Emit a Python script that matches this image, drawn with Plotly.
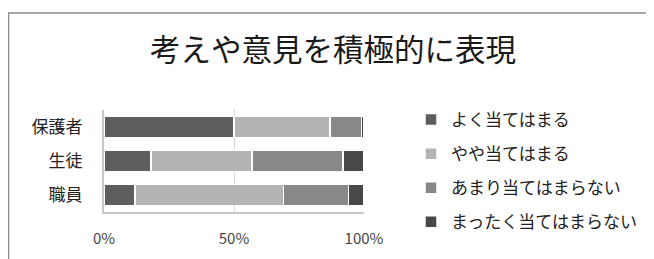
import plotly.graph_objects as go

categories = ["保護者", "生徒", "職員"]
series_names = ["よく当てはまる", "やや当てはまる", "あまり当てはまらない", "まったく当てはまらない"]
values_yoku = [50, 18, 12]
values_yaya = [37, 39, 57]
values_amari = [12, 35, 25]
values_mattaku = [1, 8, 6]
colors = ["#5e5e5e", "#b4b4b4", "#888888", "#484848"]
tick_vals = [0, 50, 100]
tick_text = ["0%", "50%", "100%"]
title_text = "考えや意見を積極的に表現"

FONT = "Noto Sans CJK JP"
# page has an 8px body margin; figure coords = page coords - 8
OFF = 8
W, H = 654 - OFF, 259 - OFF
ML, MR, MT, MB = 104 - OFF, 290, 110 - OFF, 47

fig = go.Figure()
for i, (name, vals) in enumerate(zip(series_names, [values_yoku, values_yaya, values_amari, values_mattaku])):
    fig.add_trace(go.Bar(
        y=categories, x=vals, name=name, orientation="h",
        marker=dict(color=colors[i], line=dict(color="white", width=1.5)),
        legendgroup=f"g{i}",
    ))

pw = W - ML - MR
ph = H - MT - MB
def px2x(p):  # page px -> paper x
    return (p - OFF - ML) / pw
def py2y(p):  # page px -> paper y
    return (H - MB - (p - OFF)) / ph

fig.update_layout(
    width=W, height=H,
    margin=dict(l=ML, r=MR, t=MT, b=MB, autoexpand=False),
    barmode="stack",
    bargap=0.38,
    paper_bgcolor="white", plot_bgcolor="white",
    font=dict(family=FONT, color="#222"),
    title=dict(text=title_text, x=(333 - OFF) / W, xanchor="center", y=1 - (50 - OFF) / H, yanchor="middle",
               yref="container", xref="container", font=dict(size=30.5, color="#1a1a1a", family=FONT)),
    legend=dict(
        x=px2x(411), xanchor="left", y=py2y(102), yanchor="top",
        font=dict(size=17, color="#222", family=FONT),
        traceorder="grouped", tracegroupgap=9,
        bgcolor="rgba(0,0,0,0)", itemwidth=30, maxheight=600,
    ),
    showlegend=True,
    shapes=[dict(type="rect", xref="paper", yref="paper",
                 x0=px2x(8.5), x1=px2x(670), y0=py2y(275), y1=py2y(13),
                 line=dict(color="#8a8a8a", width=1.5), fillcolor="rgba(0,0,0,0)", layer="below")],
)
fig.update_xaxes(range=[0, 100], tickvals=tick_vals, ticktext=tick_text,
                 showgrid=True, gridcolor="#d8d8d8", zeroline=False,
                 showline=True, linecolor="#c8c8c8", linewidth=1.5,
                 tickfont=dict(size=15, color="#444", family=FONT), ticklabelstandoff=12,
                 automargin=False, fixedrange=True)
fig.update_yaxes(categoryorder="array", categoryarray=categories, autorange="reversed",
                 showline=True, linecolor="#c8c8c8", linewidth=2,
                 tickfont=dict(size=17, color="#222", family=FONT), ticklabelstandoff=16,
                 automargin=False, fixedrange=True)

fig.write_html("out.html")
